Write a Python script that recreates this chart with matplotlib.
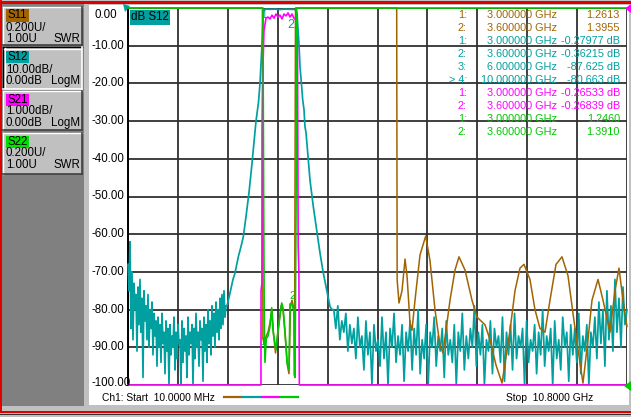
import numpy as np
import matplotlib
matplotlib.use("Agg")
import matplotlib.pyplot as plt
from matplotlib.patches import Rectangle, Polygon
from matplotlib.lines import Line2D

plt.rcParams["font.family"] = ["Liberation Sans", "DejaVu Sans"]

# ==============================================================
# DATA (frequency in GHz)
# ==============================================================

f_start, f_stop = 0.01, 10.8

# S12, LogM dB : noise floor below the passband (one sweep point per pixel)
s12_left_db = [
    -68, -75, -62, -85, -70, -88, -73, -80, -76, -91,
    -74, -84, -72, -86, -77, -98, -75, -83, -79, -88,
    -76, -90, -80, -85, -78, -92, -81, -87, -83, -95,
    -82, -90, -84, -94, -81, -89, -86, -97, -83, -91,
    -85, -100, -84, -92, -87, -90, -82, -96, -86, -93,
    -84, -89, -88, -100, -83, -94, -85, -91, -87, -98,
    -82, -92, -86, -89, -84, -100, -85, -93, -81, -90,
    -86, -95, -83, -88, -85, -99, -82, -91, -84, -94,
    -80, -89, -83, -92, -79, -87, -81, -90, -78, -86,
    -80, -88, -77, -85, -76, -84, -75, -82, -79,
]
s12_left_f = np.linspace(0.01, 2.129, len(s12_left_db))

# S12 filter skirts and passband
s12_band_f = [2.151, 2.216, 2.280, 2.324, 2.395, 2.453, 2.503, 2.561, 2.626, 2.685,
              2.734, 2.778, 2.832, 2.864, 2.886, 2.907, 2.935, 2.951, 3.000, 3.080,
              3.189, 3.297, 3.405, 3.513, 3.600, 3.643, 3.664, 3.708, 3.729, 3.766,
              3.788, 3.816, 3.837, 3.859, 3.896, 3.945, 4.017, 4.090, 4.162, 4.233,
              4.307, 4.378, 4.421]
s12_band_db = [-79, -75.6, -72, -70.3, -66, -63.3, -60.7, -55.4, -49, -42,
               -35.8, -30, -25, -20, -14.6, -9.8, -1.4, -0.5, -0.28, -0.35,
               -0.3, -0.4, -0.3, -0.35, -0.36, -0.6, -1.4, -9.8, -15.6, -20.9,
               -24.4, -27, -31.5, -33, -38.5, -45.6, -52.7, -58.9, -65, -70.3,
               -74.8, -79.2, -80]

# S12 noise floor above the passband
s12_right_db = [
    -80, -85, -79, -88, -83, -86, -81, -91, -84, -89,
    -85, -93, -82, -90, -87, -96, -83, -92, -86, -100,
    -84, -91, -88, -95, -82, -93, -86, -100, -85, -90,
    -81, -94, -87, -92, -84, -99, -86, -91, -83, -96,
    -85, -92, -80, -97, -88, -93, -84, -100, -86, -90,
    -82, -95, -87, -91, -85, -98, -83, -92, -88, -94,
    -84, -100, -86, -91, -81, -96, -87, -93, -85, -90,
    -79, -95, -86, -92, -84, -100, -88, -91, -83, -97,
    -85, -90, -87, -94, -82, -99, -86, -92, -84, -96,
    -81, -93, -87, -90, -85, -100, -83, -94, -88, -91,
    -84, -97, -86, -92, -80, -95, -87, -91, -85, -100,
    -83, -93, -88, -96, -82, -90, -86, -99, -84, -92,
    -85, -94, -81, -97, -87, -91, -84, -100, -86, -90,
    -82, -93, -78, -89, -80, -95, -75, -88, -79, -91,
    -72, -86, -77, -90, -74, -84, -80,
]
s12_right_f = np.linspace(4.46, 10.8, len(s12_right_db))

# S21, LogM dB (1 dB/div)
s21_f = [0.01, 2.885, 2.887, 2.905, 2.910, 2.930, 2.950,
         2.994, 3.037, 3.080, 3.124, 3.167, 3.210, 3.253, 3.297, 3.340,
         3.383, 3.427, 3.470, 3.513, 3.556, 3.600, 3.643,
         3.664, 3.675, 3.690, 3.705, 3.715, 10.8]
s21_db = [-60, -60, -7.5, -7.3, -3.2, -1.5, -0.6,
          -0.27, -0.24, -0.29, -0.19, -0.27, -0.16, -0.24, -0.19, -0.29,
          -0.16, -0.21, -0.13, -0.24, -0.16, -0.27, -0.32,
          -0.6, -1.2, -6.3, -7.0, -60, -60]

# S11, SWR
s11_f = [0.01, 2.916, 2.927, 2.950, 3.000, 3.037, 3.080, 3.123, 3.156, 3.199,
         3.254, 3.319, 3.362, 3.405, 3.459, 3.491, 3.524, 3.556, 3.600, 3.610,
         3.632, 5.820, 5.830, 5.870, 5.935, 6.000, 6.043, 6.108, 6.151, 6.216,
         6.324, 6.447, 6.540, 6.648, 6.756, 6.821, 6.973, 7.081, 7.167, 7.297,
         7.448, 7.556, 7.729, 7.838, 7.967, 8.097, 8.270, 8.378, 8.486, 8.573,
         8.702, 8.810, 8.918, 9.027, 9.135, 9.265, 9.394, 9.524, 9.654, 9.740,
         9.848, 9.956, 10.043, 10.173, 10.281, 10.432, 10.540, 10.627, 10.713, 10.8]
s11_swr = [10, 10, 1.25, 1.22, 1.261, 1.28, 1.33, 1.40, 1.27, 1.17,
           1.28, 1.42, 1.40, 1.27, 1.10, 1.06, 1.42, 1.45, 1.3955, 1.05,
           10, 10, 1.557, 1.435, 1.50, 1.668, 1.58, 1.33, 1.29, 1.45,
           1.69, 1.79, 1.66, 1.40, 1.21, 1.17, 1.45, 1.61, 1.68, 1.61,
           1.45, 1.36, 1.32, 1.24, 1.106, 1.01, 1.29, 1.50, 1.62, 1.64,
           1.56, 1.40, 1.30, 1.28, 1.45, 1.64, 1.68, 1.58, 1.34, 1.19,
           1.01, 1.24, 1.45, 1.56, 1.45, 1.28, 1.50, 1.62, 1.45, 1.31]

# S22, SWR
s22_f = [0.01, 2.927, 2.944, 2.957, 2.972, 3.000, 3.037, 3.080, 3.117, 3.145,
         3.210, 3.254, 3.334, 3.362, 3.405, 3.448, 3.491, 3.513, 3.550, 3.600,
         3.621, 3.648, 3.658, 10.8]
s22_swr = [10, 10, 1.95, 1.30, 1.12, 1.246, 1.26, 1.31, 1.41, 1.29,
           1.186, 1.29, 1.435, 1.41, 1.29, 1.12, 1.08, 1.43, 1.43, 1.391,
           1.04, 2.13, 10, 10]

# channel buttons: name, scale, reference, format
channels = ["S11", "S12", "S21", "S22"]
scales = ["0.200U/", "10.00dB/", "1.000dB/", "0.200U/"]
refs = ["1.00U", "0.00dB", "0.00dB", "1.00U"]
formats = ["SWR", "LogM", "LogM", "SWR"]

# marker readout
mk_ids = ["1:", "2:", "1:", "2:", "3:", "> 4:", "1:", "2:", "1:", "2:"]
mk_freqs = ["3.000000 GHz", "3.600000 GHz", "3.000000 GHz", "3.600000 GHz",
            "6.000000 GHz", "10.000000 GHz", "3.000000 GHz", "3.600000 GHz",
            "3.000000 GHz", "3.600000 GHz"]
mk_vals = ["1.2613", "1.3955", "-0.27977 dB", "-0.36215 dB", "-87.625 dB",
           "-80.663 dB", "-0.26533 dB", "-0.26839 dB", "1.2460", "1.3910"]
mk_trace = [0, 0, 1, 1, 1, 1, 2, 2, 3, 3]

y_ticks = list(range(0, -101, -10))

# ==============================================================
# STYLE
# ==============================================================

C11 = "#A06400"
C12 = "#00A0A0"
C21 = "#FF00FF"
C22 = "#00C800"
colors = [C11, C12, C21, C22]
label_bg = [C11, C12, C21, "#00E000"]
FS = 8.3

W, H = 631, 417
fig = plt.figure(figsize=(W / 100, H / 100), dpi=100, facecolor="#C0C0C0")


def fx(x):
    return x / W


def fy(y):
    return 1 - y / H


def box(x0, y0, x1, y1, color, z=-5):
    fig.add_artist(Rectangle((fx(x0), fy(y1)), (x1 - x0) / W, (y1 - y0) / H,
                             transform=fig.transFigure, facecolor=color,
                             edgecolor="none", zorder=z))


def seg(x0, y0, x1, y1, color, lw=0.75, z=-4):
    fig.add_artist(Line2D([fx(x0), fx(x1)], [fy(y0), fy(y1)], color=color,
                          lw=lw, transform=fig.transFigure, zorder=z))


# ==============================================================
# WINDOW FRAME
# ==============================================================

box(89, 5, 629, 405, "white")
box(2, 4, 84, 406, "#808080")
box(0, 0, 2, 413, "#E00000")
box(0, 1, 631, 2.5, "#E00000")
box(0, 3, 631, 4, "#404040")
box(0, 410.5, 631, 412.5, "#E00000")
box(0, 413.5, 631, 415, "#303030")

# channel buttons
btn_y = [(7, 45), (47, 89), (91, 130), (133, 174)]
btn_off = [(8.5, 21, 32), (10, 23, 34), (9, 20, 32), (9, 20.5, 32.5)]
for i, name in enumerate(channels):
    y0, y1 = btn_y[i]
    box(3, y0, 82, y1, "#C0C0C0", z=-3)
    if name == "S12":
        seg(3, y0, 82, y0, "black", 1.0, -2)
        seg(3, y0, 3, y1, "black", 1.0, -2)
        seg(4, y0 + 1.5, 81, y0 + 1.5, "white", 1.0, -2)
        seg(4.5, y0 + 1, 4.5, y1 - 1, "white", 1.0, -2)
        seg(81.5, y0, 81.5, y1, "white", 1.2, -2)
        seg(3, y1, 82, y1, "white", 1.2, -2)
    else:
        seg(3, y0, 82, y0, "white", 1.0, -2)
        seg(3, y0, 3, y1, "white", 1.0, -2)
        seg(3, y1, 82, y1, "#404040", 1.2, -2)
        seg(82, y0, 82, y1, "#404040", 1.2, -2)
    o1, o2, o3 = btn_off[i]
    box(6, y0 + o1 - 6, 29, y0 + o1 + 6, label_bg[i], z=-1)
    fig.text(fx(7), fy(y0 + o1), name, fontsize=FS, va="center", color="black")
    fig.text(fx(6), fy(y0 + o2), scales[i], fontsize=FS, va="center")
    fig.text(fx(6), fy(y0 + o3), refs[i], fontsize=FS, va="center")
    fig.text(fx(80), fy(y0 + o3), formats[i], fontsize=FS, va="center", ha="right")

# ==============================================================
# PLOT AREA
# ==============================================================

ax = fig.add_axes([fx(128), fy(385), 499 / W, 377 / H])
ax.set_facecolor("none")
ax.set_xlim(f_start, f_stop)
ax.set_ylim(-100, 0)
ax.set_xticks(np.linspace(f_start, f_stop, 11))
ax.set_yticks(y_ticks)
ax.grid(color="#303030", lw=1.3)
ax.tick_params(length=0, labelbottom=False, labelleft=False)
for side in ["top", "right", "bottom"]:
    ax.spines[side].set_visible(False)
ax.spines["left"].set_color("black")
ax.spines["left"].set_linewidth(1.4)

# S12
s12_f = np.concatenate([s12_left_f, s12_band_f, s12_right_f])
s12_db = np.concatenate([s12_left_db, s12_band_db, s12_right_db])
ax.plot(s12_f, np.clip(s12_db, -100, 0), color=C12, lw=1.25, clip_on=False, zorder=3)

# S11 (SWR)
ax11 = ax.twinx()
ax11.set_ylim(1.0, 3.0)
ax11.set_axis_off()
ax11.plot(s11_f, np.clip(s11_swr, 1.0, 3.0), color=C11, lw=1.1, clip_on=False)

# S21 (1 dB/div)
ax21 = ax.twinx()
ax21.set_ylim(-10, 0)
ax21.set_axis_off()
ax21.plot(s21_f, np.clip(s21_db, -10, 0), color=C21, lw=1.2, clip_on=False)

# S22 (SWR)
ax22 = ax.twinx()
ax22.set_ylim(1.0, 3.0)
ax22.set_axis_off()
ax22.plot(s22_f, np.clip(s22_swr, 1.0, 3.0), color=C22, lw=1.2, clip_on=False)

# marker numbers on the traces
ax.text(2.96, -1.8, "1", color=C12, fontsize=7, ha="center", va="center", zorder=6)
ax.text(3.52, -4.5, "2", color=C12, fontsize=9, ha="center", va="center", zorder=6)
ax.text(3.56, -76.5, "2", color=C22, fontsize=8, ha="center", va="center", zorder=6)
ax.text(2.93, -88.5, "1", color=C22, fontsize=7, ha="center", va="center", zorder=6)

# y scale labels (left aligned, minus sign hangs to the left)
for i, v in enumerate(y_ticks):
    ypx = 8 + 37.7 * i
    xpx = 91
    if i == 0:
        ypx, xpx = 15.5, 94
    if i == 10:
        ypx = 383
    fig.text(fx(xpx), fy(ypx), f"{v:.2f}", fontsize=8.3, ha="left", va="center")

# trace title
fig.text(fx(131), fy(17.5), "dB S12", fontsize=FS, va="center", color="black",
         bbox=dict(boxstyle="square,pad=0.1", fc=C12, ec="none"))

# reference position pointers
for pts, c in [([(123, 4), (130, 6), (125, 12)], C12),
               ([(631, 4), (625, 8.5), (631, 13)], C21),
               ([(631, 381), (624, 386), (631, 391)], C22)]:
    fig.add_artist(Polygon([(fx(a), fy(b)) for a, b in pts], closed=True,
                           transform=fig.transFigure, fc=c, ec="none", zorder=6))

# marker readout table
for i in range(len(mk_ids)):
    ypx = 15 + 13 * i
    c = colors[mk_trace[i]]
    fig.text(fx(467), fy(ypx), mk_ids[i], fontsize=7.8, ha="right", va="center", color=c)
    fig.text(fx(557), fy(ypx), mk_freqs[i], fontsize=7.8, ha="right", va="center", color=c)
    fig.text(fx(620), fy(ypx), mk_vals[i], fontsize=7.8, ha="right", va="center", color=c)

# ==============================================================
# FOOTER
# ==============================================================

fig.text(fx(102), fy(398), "Ch1: Start  10.0000 MHz", fontsize=7.4, va="center")
fig.text(fx(593), fy(398), "Stop  10.8000 GHz", fontsize=7.4, va="center", ha="right")
for (x0, x1), c in zip([(224, 241), (243, 261), (262, 279), (281, 298)], colors):
    seg(x0, 396.5, x1, 396.5, c, 1.6, 2)

fig.savefig("out.png", dpi=100, facecolor=fig.get_facecolor())
